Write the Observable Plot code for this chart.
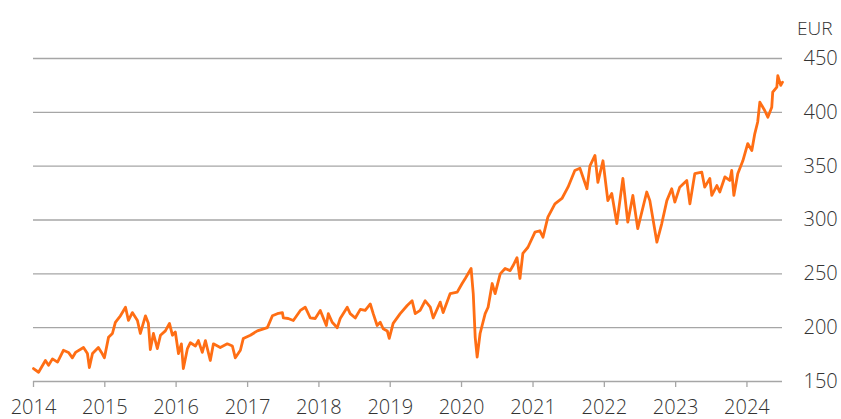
<!DOCTYPE html>
<html><head><meta charset="utf-8">
<script src="https://cdn.jsdelivr.net/npm/d3@7"></script>
<script src="https://cdn.jsdelivr.net/npm/@observablehq/plot@0.6"></script>
<style>body{margin:0;background:#fff}#chart svg{display:block}</style>
</head><body><div id="chart"></div>
<script>
const dates = [
"2014-01-01","2014-01-27","2014-03-03","2014-03-19","2014-04-08","2014-05-04","2014-06-03","2014-06-29","2014-07-19","2014-08-04",
"2014-09-14","2014-10-04","2014-10-14","2014-10-30","2014-11-29","2014-12-15","2014-12-30","2015-01-20","2015-02-09","2015-02-24",
"2015-03-22","2015-04-17","2015-05-02","2015-05-22","2015-06-17","2015-07-02","2015-07-28","2015-08-12","2015-08-22","2015-09-07",
"2015-09-27","2015-10-13","2015-11-07","2015-11-28","2015-12-13","2015-12-28","2016-01-13","2016-01-28","2016-02-07","2016-02-28",
"2016-03-14","2016-04-09","2016-04-24","2016-05-14","2016-05-30","2016-06-24","2016-07-10","2016-08-14","2016-09-19","2016-10-15",
"2016-10-30","2016-11-25","2016-12-10","2017-01-15","2017-02-20","2017-04-12","2017-05-08","2017-06-02","2017-06-28","2017-07-03",
"2017-07-28","2017-08-23","2017-09-28","2017-10-23","2017-11-18","2017-12-13","2018-01-08","2018-02-08","2018-02-18","2018-03-10",
"2018-04-05","2018-04-20","2018-05-26","2018-06-10","2018-07-06","2018-08-01","2018-08-26","2018-09-21","2018-10-06","2018-10-26",
"2018-11-11","2018-11-26","2018-12-17","2018-12-27","2019-01-16","2019-02-21","2019-03-29","2019-04-23","2019-05-09","2019-06-03",
"2019-06-29","2019-07-25","2019-08-09","2019-09-14","2019-09-29","2019-11-04","2019-12-10","2020-01-04","2020-01-20","2020-02-19",
"2020-03-01","2020-03-11","2020-03-21","2020-04-05","2020-05-01","2020-05-16","2020-06-06","2020-06-21","2020-07-17","2020-08-11",
"2020-09-06","2020-09-21","2020-10-11","2020-10-26","2020-11-10","2020-12-06","2021-01-11","2021-02-05","2021-02-21","2021-03-18",
"2021-04-23","2021-05-29","2021-06-29","2021-08-03","2021-08-29","2021-10-04","2021-10-19","2021-11-14","2021-11-29","2021-12-25",
"2022-01-19","2022-02-08","2022-03-06","2022-04-06","2022-05-01","2022-05-27","2022-06-21","2022-08-06","2022-08-22","2022-09-27",
"2022-10-22","2022-11-17","2022-12-12","2022-12-28","2023-01-22","2023-02-27","2023-03-15","2023-04-09","2023-05-15","2023-05-30",
"2023-06-25","2023-07-05","2023-07-31","2023-08-15","2023-09-10","2023-10-05","2023-10-15","2023-10-26","2023-11-15","2023-12-11",
"2024-01-05","2024-01-26","2024-02-10","2024-02-25","2024-03-07","2024-04-01","2024-04-17","2024-05-07","2024-05-12","2024-06-02",
"2024-06-07","2024-06-22","2024-07-01"
];
const prices = [
162,158.6,169.5,165,171,168,179,177,172,177,
181.6,176,163,176,181.6,177,172,191,194.6,205,
211,219,206.7,214,206.7,194.6,211,204,179.7,194.6,
180.6,193,197,204,193,196,176,185,162,180.6,
186,183,188,177,188,169.5,185,181.6,185,183,
172,179,190,193,197,200,211,213,214,209,
208.5,206.7,216,219,209,208.5,216,202,213,205,
200,208.5,219,213,209,217,216,222,213,202,
205,199,197,190,204,213,220.6,225,213,216,
225,219,209,223.7,214,231.7,233,241,245.7,255,
231.7,191,172.6,194.6,213,219,241,231.7,250,255,
253,257.7,265,245.7,269,274.7,288.7,290,284,302.6,
315,320,330.5,346,348,329,350,360,335,355,
318,324.6,296.7,338.6,298,322.8,292,326,318,279.4,
296.7,318,329,316.6,330.5,336.7,315,343,344.4,330.5,
338.6,322.8,332,326,340,336.7,346,322.8,343,355,
371,364.6,380,391,409.5,401.7,395.5,404.8,418.7,423.4,
434,425,428
];
const yTicks = [150, 200, 250, 300, 350, 400, 450];
const xTickYears = [2014, 2015, 2016, 2017, 2018, 2019, 2020, 2021, 2022, 2023, 2024];
const unitLabel = "EUR";

const data = dates.map((d, i) => ({date: new Date(d + "T00:00:00Z"), price: prices[i]}));
const xTicks = xTickYears.map(y => new Date(Date.UTC(y, 0, 1)));

const chart = Plot.plot({
  width: 841,
  height: 419,
  marginLeft: 33,
  marginRight: 59,
  marginTop: 58,
  marginBottom: 38,
  style: {fontFamily: "'Open Sans', sans-serif", fontSize: "20px", fontWeight: 300, color: "#333", background: "#fff"},
  x: {type: "utc", domain: [new Date("2014-01-01T00:00:00Z"), new Date("2024-07-01T00:00:00Z")]},
  y: {domain: [150, 450]},
  marks: [
    Plot.gridY(yTicks, {stroke: "#a6a6a6", strokeOpacity: 1, strokeWidth: 1.3}),
    Plot.axisX(xTicks, {tickSize: 6, tickPadding: 12, stroke: "#a6a6a6", strokeWidth: 1.3, fill: "#333", tickFormat: d => String(d.getUTCFullYear()), label: null}),
    Plot.axisY(yTicks, {anchor: "right", tickSize: 0, tickPadding: 21, fill: "#333", label: null}),
    Plot.line(data, {x: "date", y: "price", stroke: "#ff6e14", strokeWidth: 2.8, strokeLinejoin: "round"}),
    Plot.text([unitLabel], {frameAnchor: "top-right", dx: 50, dy: -37, textAnchor: "end", fill: "#333", fontSize: 19})
  ]
});
document.getElementById("chart").appendChild(chart);
</script>
</body></html>
